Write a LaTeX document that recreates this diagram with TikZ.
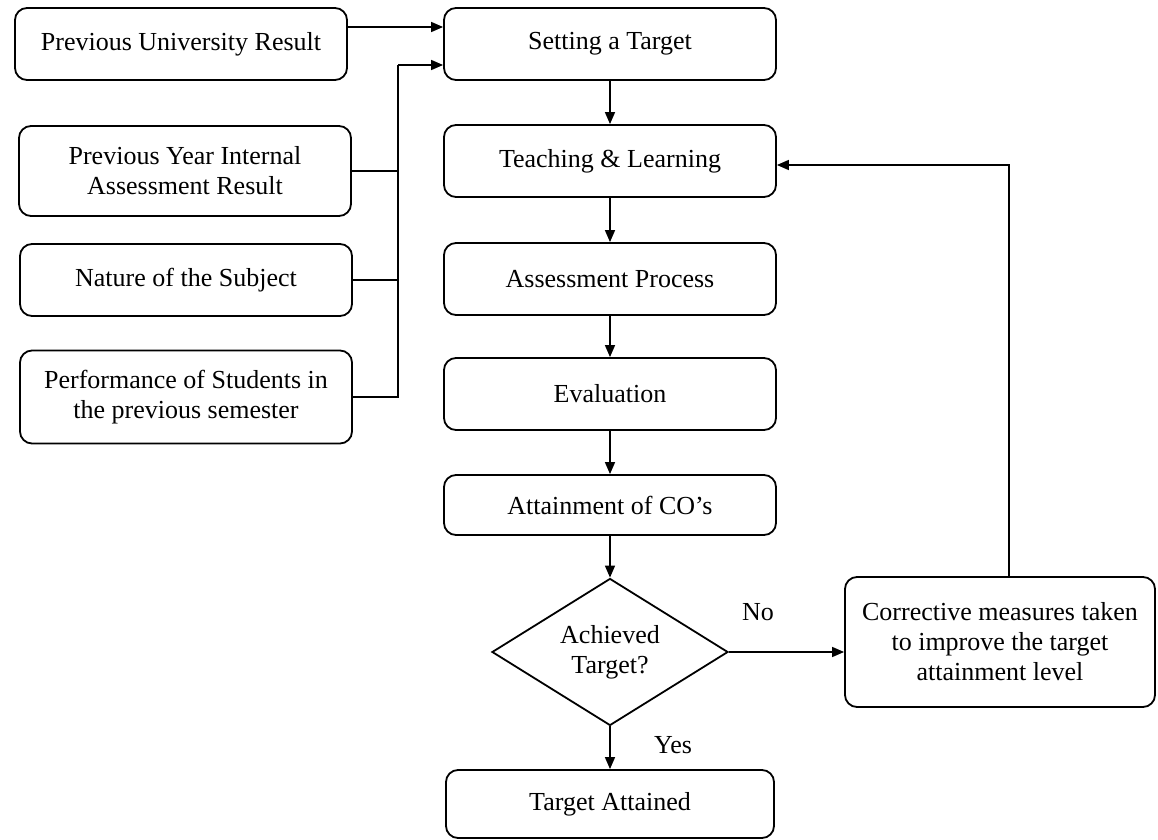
\documentclass[tikz,border=0pt]{standalone}
\usepackage{fontspec}
\setmainfont{Liberation Serif}
\usetikzlibrary{arrows.meta,shapes.geometric}

\begin{document}
\begin{tikzpicture}[x=0.5pt,y=-0.5pt,
    box/.style={rectangle,rounded corners=6pt,draw,line width=0.9pt,align=center,
      font=\fontsize{13}{15}\selectfont,minimum width=166pt,minimum height=36pt,inner sep=2pt},
    decision/.style={diamond,draw,line width=0.9pt,align=center,aspect=1.6,inner sep=0pt,
      font=\fontsize{13}{15}\selectfont,minimum width=118pt,minimum height=73.5pt},
    arr/.style={-{Triangle[length=6pt,width=5pt]},line width=0.75pt},
    lbl/.style={font=\fontsize{13}{15}\selectfont}]
        \useasboundingbox (0,0) rectangle (1158,840);
        \node [box] (pur) at (181,44) {Previous University Result};
        \node [box,minimum height=45pt] (pyiar) at (185,171) {Previous Year Internal\\Assessment Result};
        \node [box] (nos) at (186,280) {Nature of the Subject};
        \node [box,minimum height=46.5pt] (pos) at (186,397) {Performance of Students in\\the previous semester};
        \node [box] (target) at (610,44) {Setting a Target};
        \node [box] (teach) at (610,161) {Teaching \& Learning};
        \node [box] (assess) at (610,279) {Assessment Process};
        \node [box] (eval) at (610,394) {Evaluation};
        \node [box,minimum height=30pt] (aco) at (610,505) {Attainment of CO's};
        \node [decision] (achieved) at (610,652) {Achieved\\Target?};
        \node [box,minimum width=164pt,minimum height=34pt] (attained) at (610,804) {Target Attained};
        \node [box,minimum width=155pt,minimum height=65pt] (corr) at (1000,642) {Corrective measures taken\\to improve the target\\attainment level};
        \coordinate (bus) at (398,65);
        \draw[arr] ([yshift=8.5pt]pur.east) -- ([yshift=8.5pt]target.west);
        \draw[line width=0.75pt] (pyiar.east) -- (bus |- pyiar.east);
        \draw[line width=0.75pt] (nos.east) -- (bus |- nos.east);
        \draw[line width=0.75pt] (pos.east) -- (bus |- pos.east) -- (bus);
        \draw[arr] (bus) -- (target.west |- bus);
        \draw[arr] (target.south) -- (teach.north);
        \draw[arr] (teach.south) -- (assess.north);
        \draw[arr] (assess.south) -- (eval.north);
        \draw[arr] (eval.south) -- (aco.north);
        \draw[arr] (aco.south) -- (achieved.north);
        \draw[arr] (achieved.south) -- (attained.north);
        \draw[arr] (achieved.east) -- (corr.west |- achieved.east);
        \draw[arr] ([xshift=4.5pt]corr.north) |- ([yshift=-2pt]teach.east);
        \node [lbl] (no) at (758,612) {No};
        \node [lbl] (yes) at (673,745) {Yes};
      \end{tikzpicture}
\end{document}
